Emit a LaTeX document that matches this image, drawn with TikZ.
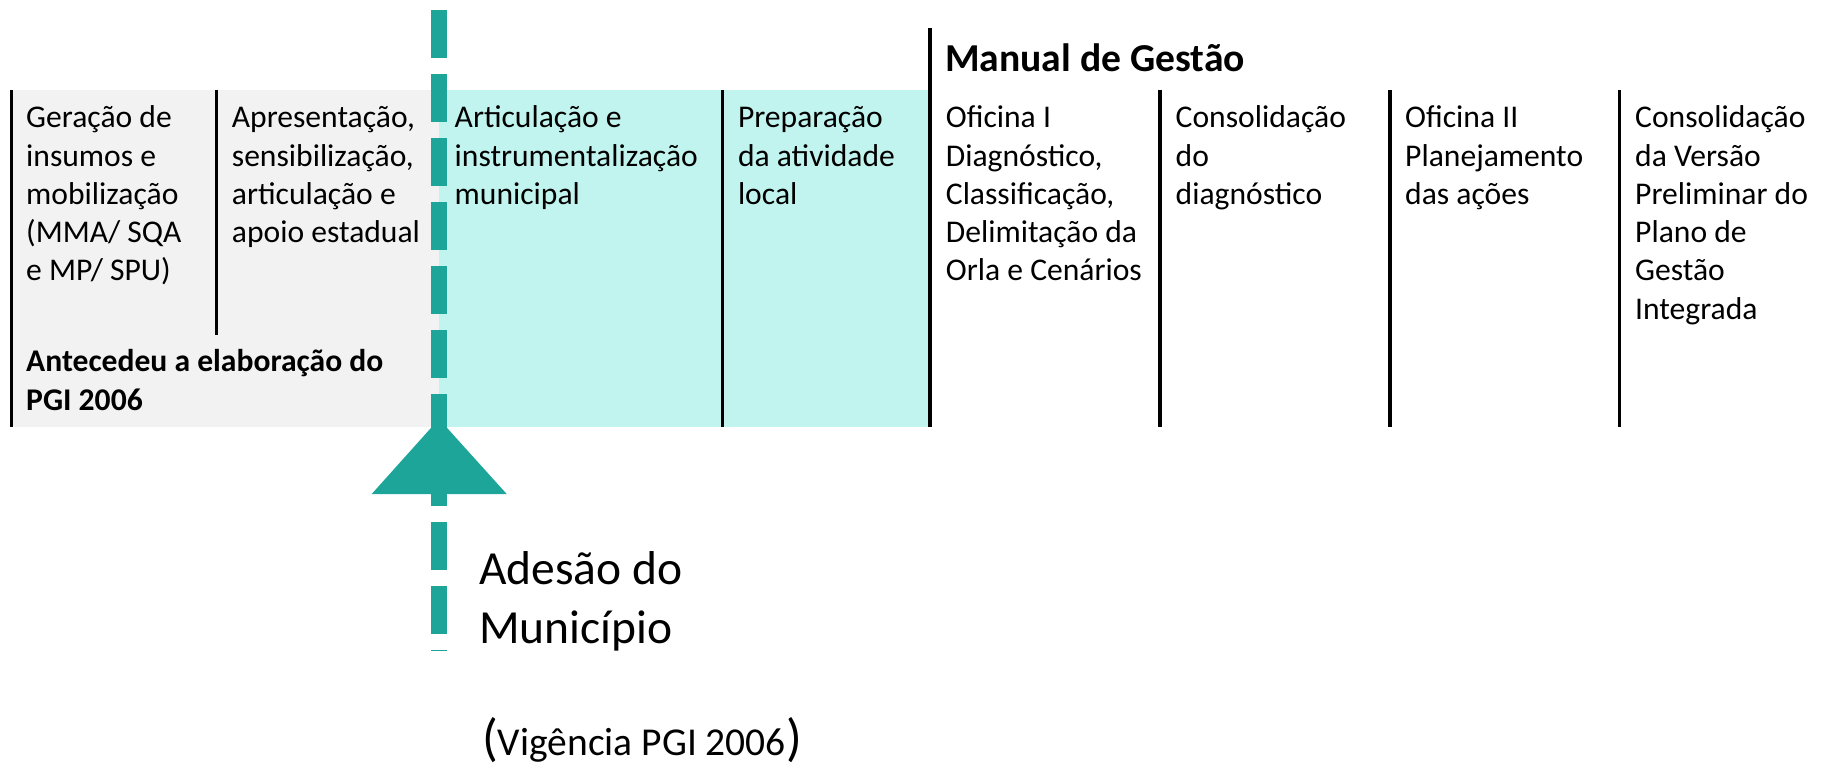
\documentclass[tikz,border=0pt]{standalone}
\usepackage{fontspec}
\setmainfont{Carlito}
\definecolor{tealline}{HTML}{1DA599}
\definecolor{mycyan}{HTML}{C1F4EE}
\definecolor{mygray}{HTML}{F2F2F2}
\newcommand{\colines}[1]{\begin{tabular}[t]{@{}l@{}}#1\end{tabular}}
\begin{document}
\begin{tikzpicture}[x=1pt,y=-1pt,
  divider/.style={line width=3.3pt,black},
  coltext/.style={anchor=base west,inner sep=0pt,font=\fontsize{31.6}{38.3}\selectfont},
  boldtext/.style={anchor=base west,inner sep=0pt,font=\fontsize{31.6}{38.3}\selectfont\bfseries},
  bigtext/.style={anchor=base west,inner sep=0pt,font=\fontsize{47.5}{59}\selectfont},
  timeline/.style={tealline,line width=16pt,dash pattern=on 47.5pt off 16.5pt}]
\useasboundingbox (0,0) rectangle (1845,766);
% background panels
\fill[mygray] (11,90) rectangle (439,426.7);
\fill[mycyan] (439,90) rectangle (930,426.7);
% dividers
\draw[divider] (11.5,90) -- (11.5,426.7);
\draw[divider] (216.5,90) -- (216.5,335);
\draw[divider] (722.5,90) -- (722.5,426.7);
\draw[divider] (930,28.3) -- (930,426.7);
\draw[divider] (1160,90) -- (1160,426.7);
\draw[divider] (1390,90) -- (1390,426.7);
\draw[divider] (1619.5,90) -- (1619.5,426.7);
% column texts
\node[coltext] (c1) at (26,127.7) {\colines{Geração de\\insumos e\\mobilização\\(MMA/ SQA\\e MP/ SPU)}};
\node[coltext] (c2) at (231.7,127.7) {\colines{Apresentação,\\sensibilização,\\articulação e\\apoio estadual}};
\node[coltext] (c3) at (454.5,127.7) {\colines{Articulação e\\instrumentalização\\municipal}};
\node[coltext] (c4) at (737.8,127.7) {\colines{Preparação\\da atividade\\local}};
\node[coltext] (c5) at (945.7,127.7) {\colines{Oficina I\\Diagnóstico,\\Classificação,\\Delimitação da\\Orla e Cenários}};
\node[coltext] (c6) at (1175.5,127.7) {\colines{Consolidação\\do\\diagnóstico}};
\node[coltext] (c7) at (1405,127.7) {\colines{Oficina II\\Planejamento\\das ações}};
\node[coltext] (c8) at (1635,127.7) {\colines{Consolidação\\da Versão\\Preliminar do\\Plano de\\Gestão\\Integrada}};
\node[boldtext] (ante) at (26,371.7) {\colines{Antecedeu a elaboração do\\PGI 2006}};
\node[anchor=base west,inner sep=0pt,font=\fontsize{39.6}{48}\selectfont\bfseries] (manual) at (945,71.7) {Manual de Gestão};
% timeline marker
\coordinate (apex) at (439,419);
\coordinate (bl) at (371.7,494);
\coordinate (br) at (506.7,494);
\fill[tealline] (apex) -- (bl) -- (br) -- cycle;
\coordinate (ltop) at (439,10);
\coordinate (lbot) at (439,651);
\draw[timeline] (ltop) -- (lbot);
\node[bigtext] (adesao) at (479,584) {\colines{Adesão do\\Município}};
\node[anchor=base west,inner sep=0pt,font=\fontsize{52}{60}\selectfont] (vig) at (482,755) {({\fontsize{39.5}{47}\selectfont Vigência PGI 2006})};
\end{tikzpicture}
\end{document}
